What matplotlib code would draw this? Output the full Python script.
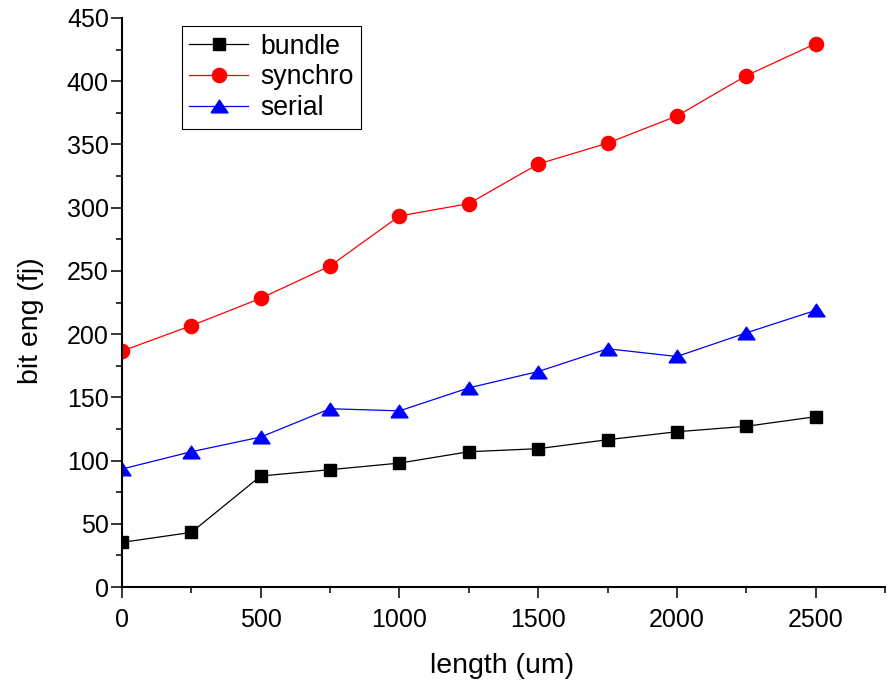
import matplotlib.pyplot as plt
from matplotlib.ticker import MultipleLocator

plt.rcParams['font.family'] = ['Liberation Sans', 'DejaVu Sans']

length = [0, 250, 500, 750, 1000, 1250, 1500, 1750, 2000, 2250, 2500]
bundle = [35.3, 43.2, 87.8, 92.8, 98.0, 107.0, 109.4, 116.5, 122.8, 127.1, 134.7]
synchro = [186.6, 206.7, 228.3, 253.9, 293.4, 303.2, 334.5, 351.0, 372.5, 404.4, 429.7]
serial = [93.3, 107.0, 118.6, 141.0, 139.3, 157.5, 170.4, 188.4, 182.3, 201.0, 218.8]

# wide, flat triangle like the original
tri = [(-1, -0.75), (1, -0.75), (0, 0.75), (-1, -0.75)]

fig = plt.figure(figsize=(8.91, 6.81), dpi=100)
ax = fig.add_axes([0.1369, 0.138, 0.8564, 0.8356])

ax.plot(length, bundle, color='black', lw=0.9, marker='s', ms=8.6, label='bundle')
ax.plot(length, synchro, color='red', lw=0.9, marker='o', ms=10.2, label='synchro')
ax.plot(length, serial, color='blue', lw=0.9, marker=tri, ms=12.2, label='serial')

ax.set_xlim(0, 2750)
ax.set_ylim(0, 450)
ax.xaxis.set_major_locator(MultipleLocator(500))
ax.xaxis.set_minor_locator(MultipleLocator(250))
ax.yaxis.set_major_locator(MultipleLocator(50))
ax.yaxis.set_minor_locator(MultipleLocator(25))
ax.set_xticks([0, 500, 1000, 1500, 2000, 2500])

for side in ['top', 'right']:
    ax.spines[side].set_visible(False)
for side in ['left', 'bottom']:
    ax.spines[side].set_linewidth(1.5)

ax.tick_params(which='major', direction='out', length=8, width=1.1, labelsize=18)
ax.tick_params(which='minor', direction='out', length=4, width=1.1)
ax.tick_params(axis='x', which='major', pad=7)
ax.tick_params(axis='y', which='major', pad=1.5)

fig.text(502.5 / 891, 1 - 666 / 681, 'length (um)', fontsize=20.5, ha='center', va='center')
fig.text(31 / 891, 1 - 321 / 681, 'bit eng (fj)', fontsize=20.5, ha='center', va='center',
         rotation=90)

leg = ax.legend(loc='upper left', bbox_to_anchor=(0.0786, 0.9858), borderaxespad=0,
                fontsize=19.2, numpoints=1, handlelength=2.2, handletextpad=0.45,
                labelspacing=0.18, borderpad=0.28, fancybox=False, framealpha=1)
leg.get_frame().set_edgecolor('black')
leg.get_frame().set_linewidth(0.8)

fig.savefig('out.png', dpi=100)
